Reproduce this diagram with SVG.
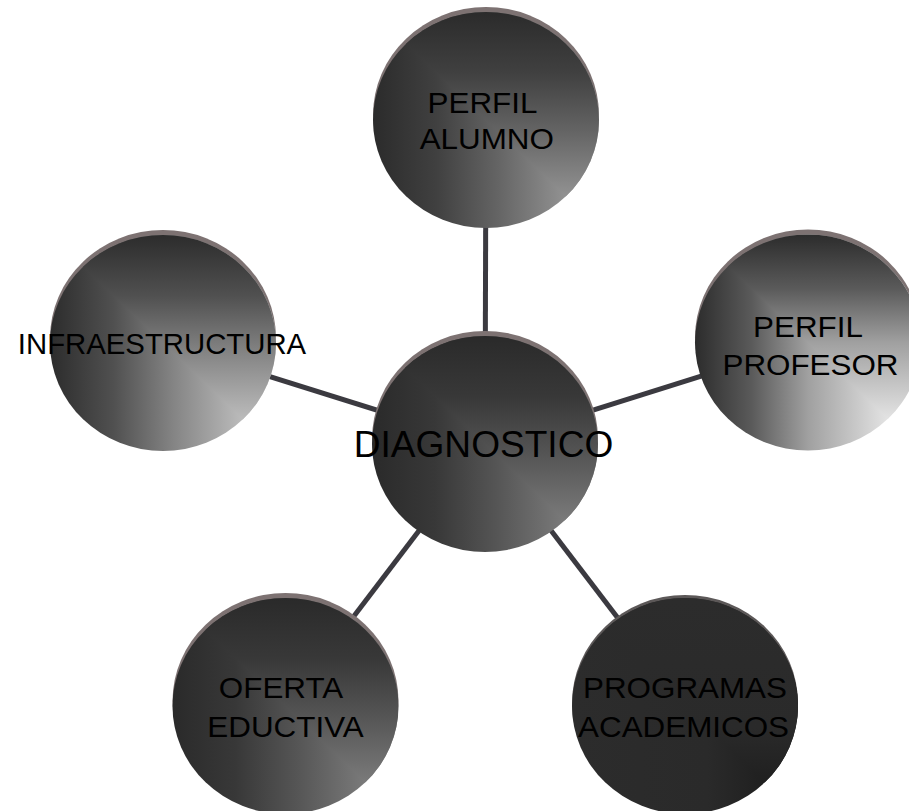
<svg xmlns="http://www.w3.org/2000/svg" xmlns:xlink="http://www.w3.org/1999/xlink" width="909" height="811" viewBox="0 0 909 811">
<style>
.rim{fill:#7d7272}
.conn{stroke:#3b3a40;stroke-width:5;fill:none}
.t{font-family:"Liberation Sans",Arial,sans-serif;font-size:30px;fill:#000;text-anchor:middle}
.tc{font-size:36px}
</style>
<defs>
<clipPath id="ur" clipPathUnits="objectBoundingBox"><polygon points="0,0 1,0 1,1"/></clipPath>
<linearGradient id="hA" x1="0" y1="0" x2="1" y2="0"><stop offset="0" stop-color="#2b2b2b"/><stop offset="0.28" stop-color="#404040"/><stop offset="0.55" stop-color="#646464"/><stop offset="1" stop-color="#a8a8a8"/></linearGradient>
<linearGradient id="vA" xlink:href="#hA" x1="0" y1="0" x2="0" y2="1"/>
<linearGradient id="hP" x1="0" y1="0" x2="1" y2="0"><stop offset="0" stop-color="#2c2c2c"/><stop offset="0.25" stop-color="#5a5a5a"/><stop offset="0.5" stop-color="#a0a0a0"/><stop offset="1" stop-color="#ffffff"/></linearGradient>
<linearGradient id="vP" xlink:href="#hP" x1="0" y1="0" x2="0" y2="1"/>
<linearGradient id="hI" x1="0" y1="0" x2="1" y2="0"><stop offset="0" stop-color="#2c2c2c"/><stop offset="0.28" stop-color="#505050"/><stop offset="0.55" stop-color="#858585"/><stop offset="1" stop-color="#d6d6d6"/></linearGradient>
<linearGradient id="vI" xlink:href="#hI" x1="0" y1="0" x2="0" y2="1"/>
<linearGradient id="hD" x1="0" y1="0" x2="1" y2="0"><stop offset="0" stop-color="#2a2a2a"/><stop offset="0.28" stop-color="#383838"/><stop offset="0.55" stop-color="#555555"/><stop offset="1" stop-color="#8c8c8c"/></linearGradient>
<linearGradient id="vD" xlink:href="#hD" x1="0" y1="0" x2="0" y2="1"/>
<linearGradient id="hR" x1="0" y1="0" x2="1" y2="0"><stop offset="0" stop-color="#2c2c2c"/><stop offset="0.6" stop-color="#2a2a2a"/><stop offset="0.85" stop-color="#202020"/><stop offset="1" stop-color="#0c0c0c"/></linearGradient>
<linearGradient id="vR" xlink:href="#hR" x1="0" y1="0" x2="0" y2="1"/>
</defs>
<rect width="909" height="811" fill="#fff"/>
<g id="connectors">
<line class="conn" x1="485" y1="444" x2="486" y2="120"/>
<line class="conn" x1="485" y1="444" x2="808" y2="342.5"/>
<line class="conn" x1="485" y1="444" x2="163" y2="343"/>
<line class="conn" x1="485" y1="444" x2="285.5" y2="706"/>
<line class="conn" x1="485" y1="444" x2="685" y2="706"/>
</g>
<g id="node-alumno">
<ellipse class="rim" cx="486" cy="115" rx="113" ry="108"/>
<ellipse cx="486" cy="120" rx="113" ry="108" fill="url(#hA)"/>
<ellipse cx="486" cy="120" rx="113" ry="108" fill="url(#vA)" clip-path="url(#ur)"/>
<text class="t" transform="translate(482.5 113.3) scale(1.046 1)">PERFIL</text>
<text class="t" transform="translate(486.8 149.3) scale(1.046 1)">ALUMNO</text>
</g>
<g id="node-profesor">
<ellipse class="rim" cx="808" cy="337.5" rx="113" ry="108"/>
<ellipse cx="808" cy="342.5" rx="113" ry="108" fill="url(#hP)"/>
<ellipse cx="808" cy="342.5" rx="113" ry="108" fill="url(#vP)" clip-path="url(#ur)"/>
<text class="t" transform="translate(808 337.3) scale(1.046 1)">PERFIL</text>
<text class="t" transform="translate(810.5 375) scale(1.046 1)">PROFESOR</text>
</g>
<g id="node-infraestructura">
<ellipse class="rim" cx="163" cy="338" rx="113" ry="108"/>
<ellipse cx="163" cy="343" rx="113" ry="108" fill="url(#hI)"/>
<ellipse cx="163" cy="343" rx="113" ry="108" fill="url(#vI)" clip-path="url(#ur)"/>
<text class="t" transform="translate(162 354) scale(0.978 1)">INFRAESTRUCTURA</text>
</g>
<g id="node-diagnostico">
<ellipse class="rim" cx="485" cy="439" rx="113" ry="108"/>
<ellipse cx="485" cy="444" rx="113" ry="108" fill="url(#hD)"/>
<ellipse cx="485" cy="444" rx="113" ry="108" fill="url(#vD)" clip-path="url(#ur)"/>
<text class="t tc" transform="translate(483.5 457.3) scale(1.03 1)">DIAGNOSTICO</text>
</g>
<g id="node-oferta">
<ellipse class="rim" cx="285.5" cy="701" rx="113" ry="108"/>
<ellipse cx="285.5" cy="706" rx="113" ry="108" fill="url(#hD)"/>
<ellipse cx="285.5" cy="706" rx="113" ry="108" fill="url(#vD)" clip-path="url(#ur)"/>
<text class="t" transform="translate(281 698.3) scale(1.046 1)">OFERTA</text>
<text class="t" transform="translate(285.5 736.7) scale(1.046 1)">EDUCTIVA</text>
</g>
<g id="node-programas">
<ellipse cx="685" cy="703" rx="113" ry="108" fill="#5c5858"/>
<ellipse cx="685" cy="706" rx="113" ry="108" fill="url(#hR)"/>
<ellipse cx="685" cy="706" rx="113" ry="108" fill="url(#vR)" clip-path="url(#ur)"/>
<text class="t" transform="translate(685 698.3) scale(1.046 1)">PROGRAMAS</text>
<text class="t" transform="translate(683.5 736.7) scale(1.046 1)">ACADEMICOS</text>
</g>
</svg>
